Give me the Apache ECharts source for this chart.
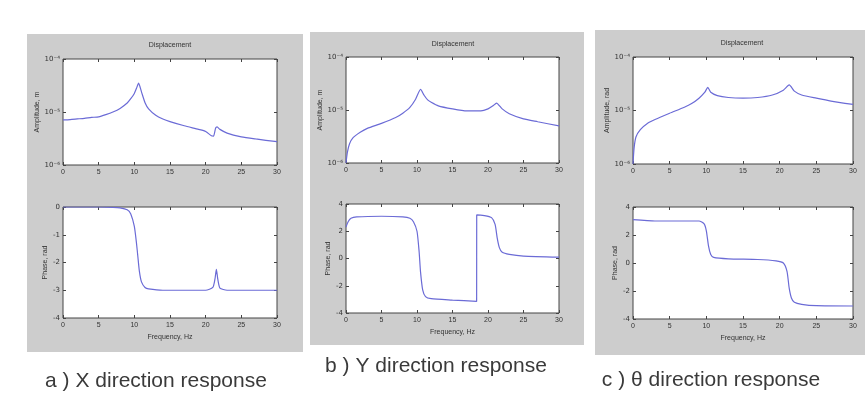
<!DOCTYPE html>
<html><head><meta charset="utf-8">
<script src="https://cdn.jsdelivr.net/npm/echarts@6/dist/echarts.min.js"></script>
<style>html,body{margin:0;padding:0;background:#fff;}#c{width:867px;height:397px;}</style>
</head><body><div id="c"></div>
<script>
// ---------- DATA ----------
const freqTicks = [0, 5, 10, 15, 20, 25, 30];
const ampTicks = [1e-6, 1e-5, 1e-4];
const ampTickLabels = ['10\u207B\u2076', '10\u207B\u2075', '10\u207B\u2074'];
const phaseTicksA = [-4, -3, -2, -1, 0];
const phaseTicksBC = [-4, -2, 0, 2, 4];
const panelTitles = ['Displacement', 'Displacement', 'Displacement'];
const captions = ['a ) X direction response', 'b ) Y direction response', 'c ) \u03B8 direction response'];
const ampNames = ['Amplitude, m', 'Amplitude, m', 'Amplitude, rad'];
const phaseName = 'Phase, rad';
const freqName = 'Frequency, Hz';

// X direction
const freqAmpA = [0, 1, 2, 3, 4, 5, 6, 7, 8, 9, 9.5, 10, 10.3, 10.6, 11, 11.5, 12, 13, 14, 15, 17, 19, 20, 20.8, 21.1, 21.4, 21.6, 22, 23, 25, 27, 30];
const ampA = [7.1e-6, 7.2e-6, 7.4e-6, 7.6e-6, 7.9e-6, 8.1e-6, 8.9e-6, 1.0e-5, 1.17e-5, 1.48e-5, 1.78e-5, 2.24e-5, 2.8e-5, 3.5e-5, 2.4e-5, 1.5e-5, 1.15e-5, 8.7e-6, 7.4e-6, 6.6e-6, 5.5e-6, 4.7e-6, 4.3e-6, 3.55e-6, 3.5e-6, 5.0e-6, 5.25e-6, 4.7e-6, 4.0e-6, 3.4e-6, 3.1e-6, 2.75e-6];
const freqPhA = [0, 5, 7, 8, 9, 9.5, 10, 10.3, 10.5, 10.7, 11, 11.5, 12, 14, 20, 21, 21.3, 21.5, 21.7, 22, 23, 30];
const phA = [0, 0, -0.01, -0.03, -0.1, -0.25, -0.7, -1.3, -1.8, -2.3, -2.7, -2.9, -2.95, -3.0, -3.0, -2.9, -2.6, -2.25, -2.6, -2.92, -3.0, -3.0];

// Y direction
const freqAmpB = [0, 0.2, 0.5, 1, 2, 3, 5, 7, 8, 9, 9.8, 10.5, 11, 11.5, 12, 13, 15, 17, 19, 20, 20.7, 21.2, 22, 23, 25, 27, 30];
const ampB = [1.0e-6, 1.6e-6, 2.3e-6, 3.0e-6, 3.8e-6, 4.5e-6, 5.6e-6, 7.2e-6, 8.7e-6, 1.12e-5, 1.6e-5, 2.45e-5, 1.9e-5, 1.55e-5, 1.4e-5, 1.2e-5, 1.05e-5, 9.6e-6, 9.6e-6, 1.05e-5, 1.2e-5, 1.35e-5, 1.05e-5, 8.5e-6, 6.8e-6, 6.0e-6, 5.0e-6];
const freqPhB = [0, 0.3, 0.7, 1.5, 5, 8, 9, 9.5, 10, 10.3, 10.5, 10.8, 11.2, 12, 15, 18.4, 18.41, 19.5, 20.5, 21, 21.3, 21.6, 22, 23, 25, 30];
const phB = [2.3, 2.7, 2.95, 3.05, 3.1, 3.05, 2.95, 2.7, 2.0, 0.5, -1.0, -2.3, -2.8, -2.95, -3.05, -3.15, 3.2, 3.15, 3.0, 2.5, 1.5, 0.8, 0.45, 0.3, 0.18, 0.1];

// Theta direction
const freqAmpC = [0, 0.15, 0.4, 1, 2, 3, 5, 7, 8, 9, 9.8, 10.2, 10.6, 11.5, 13, 15, 17, 19, 20.5, 21.3, 22, 23, 25, 27, 30];
const ampC = [1.0e-6, 2.0e-6, 3.2e-6, 4.4e-6, 5.8e-6, 6.8e-6, 8.9e-6, 1.15e-5, 1.35e-5, 1.7e-5, 2.2e-5, 2.7e-5, 2.2e-5, 1.9e-5, 1.75e-5, 1.7e-5, 1.75e-5, 1.95e-5, 2.4e-5, 3.0e-5, 2.3e-5, 1.95e-5, 1.7e-5, 1.5e-5, 1.3e-5];
const freqPhC = [0, 3, 9, 9.7, 10, 10.3, 10.6, 11, 13, 17, 19.5, 20.5, 21, 21.3, 21.6, 22, 23, 25, 30];
const phC = [3.1, 3.0, 3.0, 2.8, 2.3, 1.2, 0.6, 0.4, 0.3, 0.25, 0.15, 0.0, -0.6, -1.8, -2.5, -2.8, -2.95, -3.05, -3.07];

// ---------- LAYOUT ----------
const panels = [
  {rect: [27, 34, 276, 318], top: [63, 59, 214, 106], bot: [63, 207, 214, 111], title: [170, 45], cap: [156, 381],
   amp: [freqAmpA, ampA], ph: [freqPhA, phA], phTicks: phaseTicksA},
  {rect: [310, 32, 274, 313], top: [346, 57, 213, 106], bot: [346, 204, 213, 109], title: [453, 44], cap: [436, 366],
   amp: [freqAmpB, ampB], ph: [freqPhB, phB], phTicks: phaseTicksBC},
  {rect: [595, 30, 270, 325], top: [633, 57, 220, 107], bot: [633, 207, 220, 112], title: [742, 43], cap: [711, 380],
   amp: [freqAmpC, ampC], ph: [freqPhC, phC], phTicks: phaseTicksBC}
];

const lineColor = '#6b6bd6';
const txt = '#333';
const grids = [], xAxes = [], yAxes = [], series = [], graphics = [];

function ampLabel(v) {
  for (let i = 0; i < ampTicks.length; i++) {
    if (Math.abs(Math.log10(v) - Math.log10(ampTicks[i])) < 0.01) return ampTickLabels[i];
  }
  return '';
}

panels.forEach((p, pi) => {
  graphics.push({type: 'rect', shape: {x: p.rect[0], y: p.rect[1], width: p.rect[2], height: p.rect[3]}, style: {fill: '#cdcdcd'}, z: -10});
  graphics.push({type: 'text', x: p.title[0], y: p.title[1], style: {text: panelTitles[pi], fill: txt, font: '7px "Liberation Sans"', textAlign: 'center', textVerticalAlign: 'middle'}});
  graphics.push({type: 'text', x: p.cap[0], y: p.cap[1], style: {text: captions[pi], fill: '#3a3a3a', font: '21px "Liberation Sans"', textAlign: 'center', textVerticalAlign: 'middle'}});

  [['amp', p.top], ['ph', p.bot]].forEach(([kind, g]) => {
    const gi = grids.length;
    grids.push({left: g[0], top: g[1], width: g[2], height: g[3], show: true, backgroundColor: '#fff', borderColor: '#444', borderWidth: 1, containLabel: false});
    const isAmp = kind === 'amp';
    const baseX = {gridIndex: gi, type: 'value', min: freqTicks[0], max: freqTicks[freqTicks.length - 1], interval: freqTicks[1] - freqTicks[0],
      axisLine: {show: false, onZero: false}, splitLine: {show: false}, axisTick: {inside: true, length: 3, lineStyle: {color: '#444'}}};
    xAxes.push(Object.assign({}, baseX, {position: 'bottom',
      axisLabel: {fontSize: 7, color: txt, margin: 4, fontFamily: 'Liberation Sans'},
      name: isAmp ? '' : freqName, nameLocation: 'middle', nameGap: 16, nameTextStyle: {fontSize: 7, color: txt, fontFamily: 'Liberation Sans'}}));
    const xi0 = xAxes.length - 1;
    xAxes.push(Object.assign({}, baseX, {position: 'top', axisLabel: {show: false}}));
    let baseY;
    if (isAmp) {
      baseY = {gridIndex: gi, type: 'log', logBase: 10, min: ampTicks[0], max: ampTicks[ampTicks.length - 1]};
    } else {
      baseY = {gridIndex: gi, type: 'value', min: p.phTicks[0], max: p.phTicks[p.phTicks.length - 1], interval: p.phTicks[1] - p.phTicks[0]};
    }
    Object.assign(baseY, {axisLine: {show: false, onZero: false}, splitLine: {show: false}, axisTick: {inside: true, length: 3, lineStyle: {color: '#444'}}});
    yAxes.push(Object.assign({}, baseY, {position: 'left',
      axisLabel: {fontSize: 7, color: txt, margin: 3, fontFamily: 'DejaVu Sans', formatter: isAmp ? ampLabel : '{value}'},
      name: isAmp ? ampNames[pi] : phaseName, nameLocation: 'middle', nameGap: isAmp ? 20 : 14, nameRotate: 90,
      nameTextStyle: {fontSize: 7, color: txt, fontFamily: 'Liberation Sans'}}));
    const yi0 = yAxes.length - 1;
    yAxes.push(Object.assign({}, baseY, {position: 'right', axisLabel: {show: false}}));
    const src = isAmp ? p.amp : p.ph;
    series.push({type: 'line', xAxisIndex: xi0, yAxisIndex: yi0, showSymbol: false, smooth: 0.2,
      lineStyle: {color: lineColor, width: 1.2}, data: src[0].map((f, i) => [f, src[1][i]]), animation: false});
  });
});

const chart = echarts.init(document.getElementById('c'), null, {renderer: 'canvas'});
chart.setOption({backgroundColor: '#fff', animation: false, grid: grids, xAxis: xAxes, yAxis: yAxes, series: series, graphic: graphics});
</script></body></html>
